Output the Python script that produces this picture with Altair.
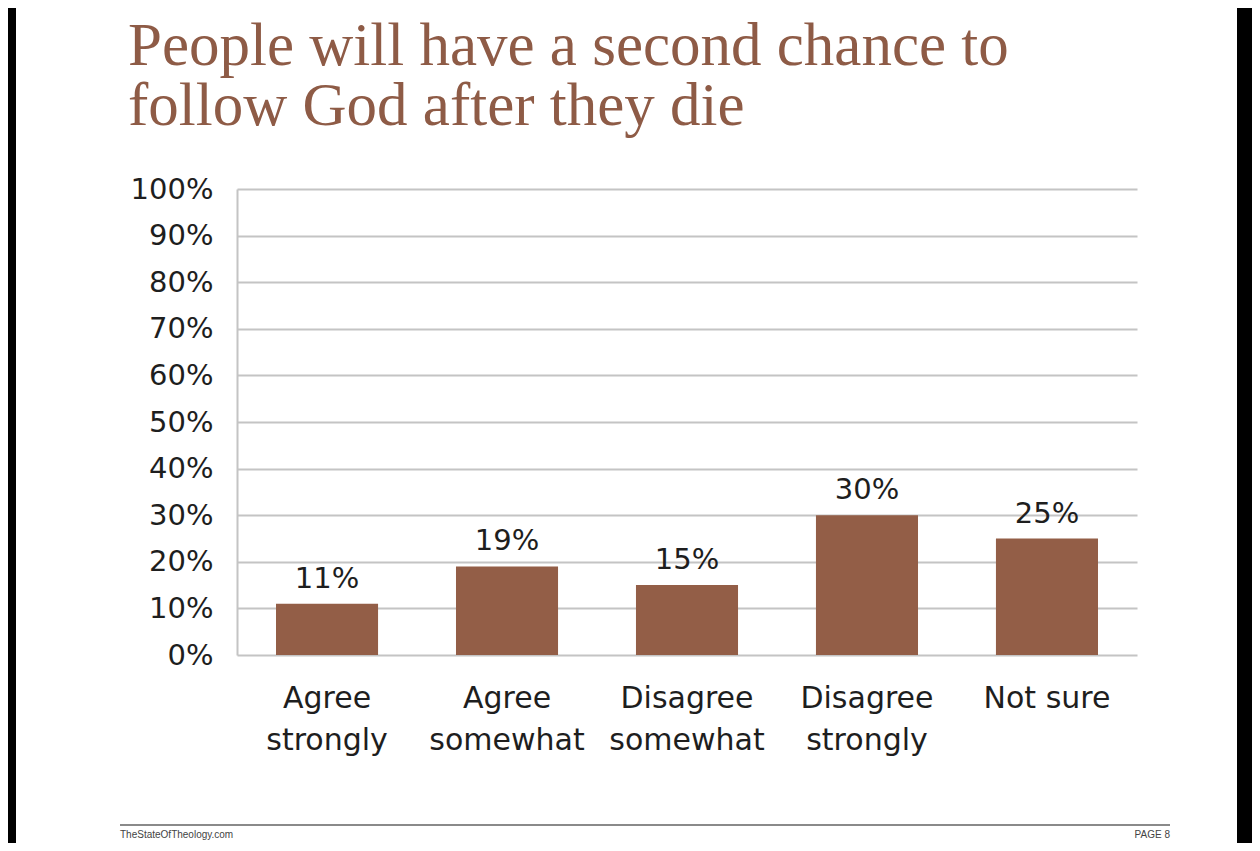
import altair as alt
import pandas as pd

title_lines = ["People will have a second chance to", "follow God after they die"]
categories = ["Agree strongly", "Agree somewhat", "Disagree somewhat", "Disagree strongly", "Not sure"]
values = [11, 19, 15, 30, 25]
y_ticks = [0, 10, 20, 30, 40, 50, 60, 70, 80, 90, 100]
footer_left = "TheStateOfTheology.com"
footer_right = "PAGE 8"

BROWN = "#935e47"
TITLE_BROWN = "#8e5b46"
TEXT = "#1e1e1e"
GRID = "#c4c4c4"
SANS = "DejaVu Sans"

df = pd.DataFrame({"category": categories, "value": values})
one = pd.DataFrame({"k": [0]})

x_enc = alt.X(
    "category:N",
    sort=categories,
    scale=alt.Scale(paddingInner=0.433, paddingOuter=0.2167),
    axis=alt.Axis(
        title=None,
        labelAngle=0,
        labelExpr="datum.label == 'Not sure' ? datum.label : split(datum.label, ' ')",
        labelFont=SANS,
        labelFontSize=30,
        labelLineHeight=42,
        labelPadding=28,
        labelColor=TEXT,
        labelLimit=400,
        domain=False,
        ticks=False,
        grid=False,
    ),
)
y_enc = alt.Y(
    "value:Q",
    scale=alt.Scale(domain=[0, 100], nice=False),
    axis=alt.Axis(
        title=None,
        values=y_ticks,
        labelExpr="datum.value + '%'",
        labelFont=SANS,
        labelFontSize=29,
        labelColor=TEXT,
        labelPadding=24,
        ticks=False,
        domain=True,
        domainColor=GRID,
        domainWidth=2,
        grid=True,
        gridColor=GRID,
        gridWidth=2,
    ),
)

bars = alt.Chart(df).mark_bar(color=BROWN).encode(x=x_enc, y=y_enc)

value_labels = (
    alt.Chart(df)
    .transform_calculate(lbl="datum.value + '%'")
    .mark_text(baseline="alphabetic", dy=-16, font=SANS, fontSize=29, color=TEXT)
    .encode(x=alt.X("category:N", sort=categories), y=alt.Y("value:Q"), text="lbl:N")
)

title = (
    alt.Chart(one)
    .mark_text(
        text=title_lines,
        align="left",
        baseline="alphabetic",
        font="Liberation Serif",
        fontSize=61,
        lineHeight=60,
        color=TITLE_BROWN,
    )
    .encode(x=alt.value(-109), y=alt.value(-124))
)

footer_rule = (
    alt.Chart(one)
    .mark_rule(color="#8a8a8a", strokeWidth=2)
    .encode(x=alt.value(-117), x2=alt.value(933), y=alt.value(636))
)
footer_l = (
    alt.Chart(one)
    .mark_text(text=footer_left, align="left", baseline="alphabetic",
               font="Liberation Sans", fontSize=10, color="#444444")
    .encode(x=alt.value(-117), y=alt.value(649))
)
footer_r = (
    alt.Chart(one)
    .mark_text(text=footer_right, align="right", baseline="alphabetic",
               font="Liberation Sans", fontSize=10, color="#444444")
    .encode(x=alt.value(933), y=alt.value(649))
)

band_left = (
    alt.Chart(one)
    .mark_rect(color="black")
    .encode(x=alt.value(-229), x2=alt.value(-221), y=alt.value(-181), y2=alt.value(660))
)
band_right = (
    alt.Chart(one)
    .mark_rect(color="black")
    .encode(x=alt.value(1000), x2=alt.value(1015), y=alt.value(-181), y2=alt.value(660))
)

chart = (
    alt.layer(bars, value_labels, title, footer_rule, footer_l, footer_r, band_left, band_right)
    .properties(
        width=900,
        height=466,
        padding={"left": 229, "top": 181, "right": 115, "bottom": 188},
        autosize=alt.AutoSizeParams(type="none"),
        background="white",
    )
    .configure_view(strokeWidth=0)
)

chart.save("out.html", embed_options={"renderer": "svg", "actions": False})
